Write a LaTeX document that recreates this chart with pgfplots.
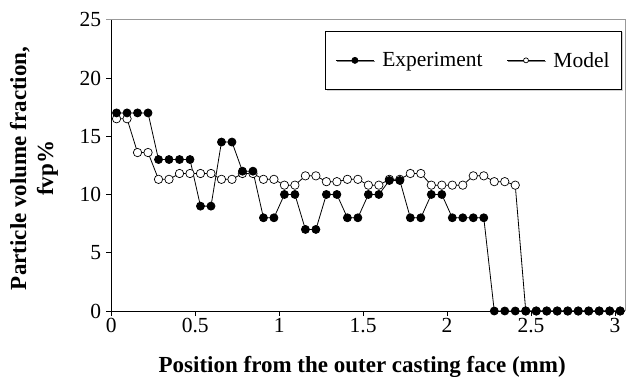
\documentclass[border=0pt]{standalone}
\usepackage{fontspec}
\setmainfont{Liberation Serif}
\usepackage{pgfplots}
\usepackage{pgfplotstable}
\pgfplotsset{compat=1.18}
\usetikzlibrary{shadows,calc}

\pgfplotstableread{
x y
0.03125 17
0.09375 17
0.15625 17
0.21875 17
0.28125 13
0.34375 13
0.40625 13
0.46875 13
0.53125 9
0.59375 9
0.65625 14.5
0.71875 14.5
0.78125 12
0.84375 12
0.90625 8
0.96875 8
1.03125 10
1.09375 10
1.15625 7
1.21875 7
1.28125 10
1.34375 10
1.40625 8
1.46875 8
1.53125 10
1.59375 10
1.65625 11.2
1.71875 11.2
1.78125 8
1.84375 8
1.90625 10
1.96875 10
2.03125 8
2.09375 8
2.15625 8
2.21875 8
2.28125 0
2.34375 0
2.40625 0
2.46875 0
2.53125 0
2.59375 0
2.65625 0
2.71875 0
2.78125 0
2.84375 0
2.90625 0
2.96875 0
3.03125 0
}\experiment

\pgfplotstableread{
x y
0.03125 16.5
0.09375 16.5
0.15625 13.6
0.21875 13.6
0.28125 11.3
0.34375 11.3
0.40625 11.8
0.46875 11.8
0.53125 11.8
0.59375 11.8
0.65625 11.3
0.71875 11.3
0.78125 11.8
0.84375 11.8
0.90625 11.3
0.96875 11.3
1.03125 10.8
1.09375 10.8
1.15625 11.6
1.21875 11.6
1.28125 11.1
1.34375 11.1
1.40625 11.3
1.46875 11.3
1.53125 10.8
1.59375 10.8
1.65625 11.3
1.71875 11.3
1.78125 11.8
1.84375 11.8
1.90625 10.8
1.96875 10.8
2.03125 10.8
2.09375 10.8
2.15625 11.6
2.21875 11.6
2.28125 11.1
2.34375 11.1
2.40625 10.8
2.46875 0
2.53125 0
2.59375 0
2.65625 0
2.71875 0
2.78125 0
2.84375 0
2.90625 0
2.96875 0
3.03125 0
}\model

\begin{document}
\begin{tikzpicture}
\begin{axis}[
  scale only axis,
  width=513.7bp, height=291.3bp,
  xmin=0, xmax=3.06, ymin=0, ymax=25,
  axis x line*=bottom, axis y line*=left,
  axis line style={line width=0.9bp, black},
  xtick={0,0.5,1,1.5,2,2.5,3},
  ytick={0,5,10,15,20,25},
  tick align=outside,
  major tick length=5bp,
  tick style={line width=0.8bp, black},
  /pgf/number format/assume math mode=true,
  ticklabel style={font=\fontsize{21.5bp}{24bp}\selectfont},
  xticklabel style={inner sep=2bp},
  yticklabel style={inner sep=5bp},
  xlabel={\textbf{Position from the outer casting face (mm)}},
  xlabel style={at={(axis description cs:0.5,0)}, anchor=base, yshift=-61bp, xshift=-6bp, inner sep=0pt, font=\fontsize{23bp}{26bp}\selectfont},
  ylabel={\textbf{Particle volume fraction,}\\\textbf{fvp\%}},
  ylabel style={at={(axis description cs:0,0.5)}, anchor=south, yshift=53bp, xshift=-3bp, inner sep=0pt, align=center, font=\fontsize{23bp}{27bp}\selectfont},
  clip=false,
  legend columns=2,
  legend style={at={(0.994,0.962)}, anchor=north east, draw=black, line width=0.8bp, fill=white,
    drop shadow={shadow xshift=1.2bp, shadow yshift=-1.2bp, fill=gray!70},
    font=\fontsize{21.5bp}{24bp}\selectfont,
    inner xsep=10bp, inner ysep=19bp, column sep=6bp,
    /tikz/every even column/.append style={column sep=22bp}},
  legend image code/.code={\draw[mark repeat=2,mark phase=2,#1] plot coordinates {(0bp,0bp) (19bp,0bp) (38bp,0bp)};},
]
\draw[gray!80, line width=0.8bp] (rel axis cs:0,1) -- (rel axis cs:1,1) -- (rel axis cs:1,0);
\draw[gray!80, line width=0.8bp] (axis cs:0,25) -- ++(-5bp,0);
\addlegendimage{black, line width=0.8bp, mark=*, mark size=3bp, mark options={fill=black}}
\addlegendentry{Experiment}
\addlegendimage{black, line width=0.8bp, mark=*, mark size=2.5bp, mark options={fill=white, line width=0.7bp}}
\addlegendentry{Model}
\addplot[black, line width=0.8bp, mark=*, mark size=4.2bp, mark options={fill=white, line width=0.7bp}, forget plot] table[x=x,y=y] {\model};
\addplot[black, line width=0.8bp, mark=*, mark size=4bp, mark options={fill=black}, forget plot] table[x=x,y=y] {\experiment};
\coordinate (bl) at (rel axis cs:0,0);
\coordinate (tr) at (rel axis cs:1,1);
\end{axis}
\pgfresetboundingbox
\path ($(bl)+(-111.3bp,-66bp)$) rectangle ($(tr)+(1bp,19.7bp)$);
\end{tikzpicture}
\end{document}
